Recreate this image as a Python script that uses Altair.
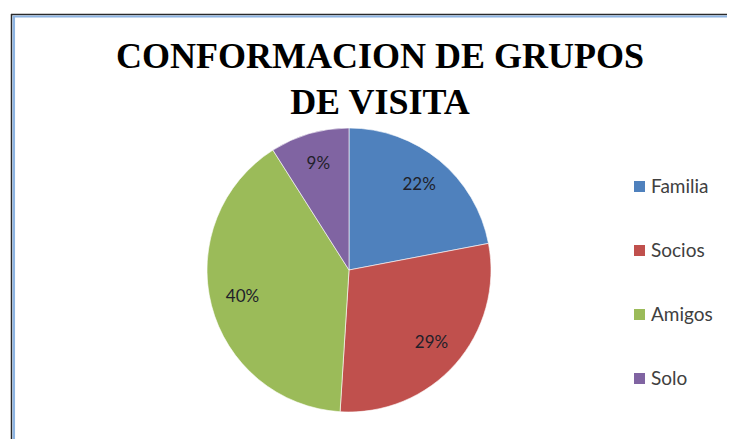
import altair as alt
import pandas as pd

categories = ["Familia", "Socios", "Amigos", "Solo"]
values = [22, 29, 40, 9]
labels = ["22%", "29%", "40%", "9%"]
colors = ["#4F81BD", "#C0504D", "#9BBB59", "#8064A2"]
title_lines = ["CONFORMACION DE GRUPOS", "DE VISITA"]

df = pd.DataFrame({
    "cat": categories,
    "val": values,
    "label": labels,
    "order": list(range(len(categories))),
})

W, H = 719, 431
CX, CY = 341, 262

color_scale = alt.Scale(domain=categories, range=colors)

base = alt.Chart(df).encode(
    theta=alt.Theta("val:Q", stack=True),
    order=alt.Order("order:Q"),
)

pie = base.mark_arc(outerRadius=142, stroke="white", strokeWidth=0.6).encode(
    color=alt.Color(
        "cat:N",
        scale=color_scale,
        sort=categories,
        legend=alt.Legend(
            title=None,
            orient="none",
            legendX=622,
            legendY=169,
            symbolType="square",
            symbolSize=121,
            symbolStrokeWidth=0,
            labelFont="Lato",
            labelFontSize=19,
            labelColor="#404040",
            labelOffset=2,
            rowPadding=44,
            padding=0,
        ),
    ),
    x=alt.value(CX),
    y=alt.value(CY),
)

text = base.mark_text(
    radius=110, font="Lato", fontSize=17, color="#1f1f2a", baseline="middle", align="center"
).encode(
    text="label:N",
    x=alt.value(CX),
    y=alt.value(CY),
)

t1 = alt.Chart(pd.DataFrame({"t": [title_lines[0]]})).mark_text(
    font="Liberation Serif", fontSize=36, fontWeight="bold", color="#000000",
    align="center", baseline="alphabetic"
).encode(text="t:N", x=alt.value(372), y=alt.value(60))

t2 = alt.Chart(pd.DataFrame({"t": [title_lines[1]]})).mark_text(
    font="Liberation Serif", fontSize=36, fontWeight="bold", color="#000000",
    align="center", baseline="alphabetic"
).encode(text="t:N", x=alt.value(372), y=alt.value(106))

frame_df = pd.DataFrame({"a": [0]})
left_dark = alt.Chart(frame_df).mark_rule(color="#2a2a2a", strokeWidth=1.5).encode(
    x=alt.value(3.5), y=alt.value(6), y2=alt.value(H)
)
left_blue = alt.Chart(frame_df).mark_rule(color="#8DB4E2", strokeWidth=2.5).encode(
    x=alt.value(5.8), y=alt.value(8), y2=alt.value(H)
)
top_dark = alt.Chart(frame_df).mark_rule(color="#2a2a2a", strokeWidth=1.5).encode(
    x=alt.value(3), x2=alt.value(W), y=alt.value(6.5)
)
top_blue = alt.Chart(frame_df).mark_rule(color="#8DB4E2", strokeWidth=2).encode(
    x=alt.value(5), x2=alt.value(W), y=alt.value(8.5)
)

chart = alt.layer(
    pie, text, t1, t2, left_dark, left_blue, top_dark, top_blue
).properties(
    width=W, height=H, padding=0, autosize=alt.AutoSizeParams(type="none"),
    background="white",
).configure_view(stroke=None)

chart.save("out.html", embed_options={"renderer": "svg", "actions": False})
